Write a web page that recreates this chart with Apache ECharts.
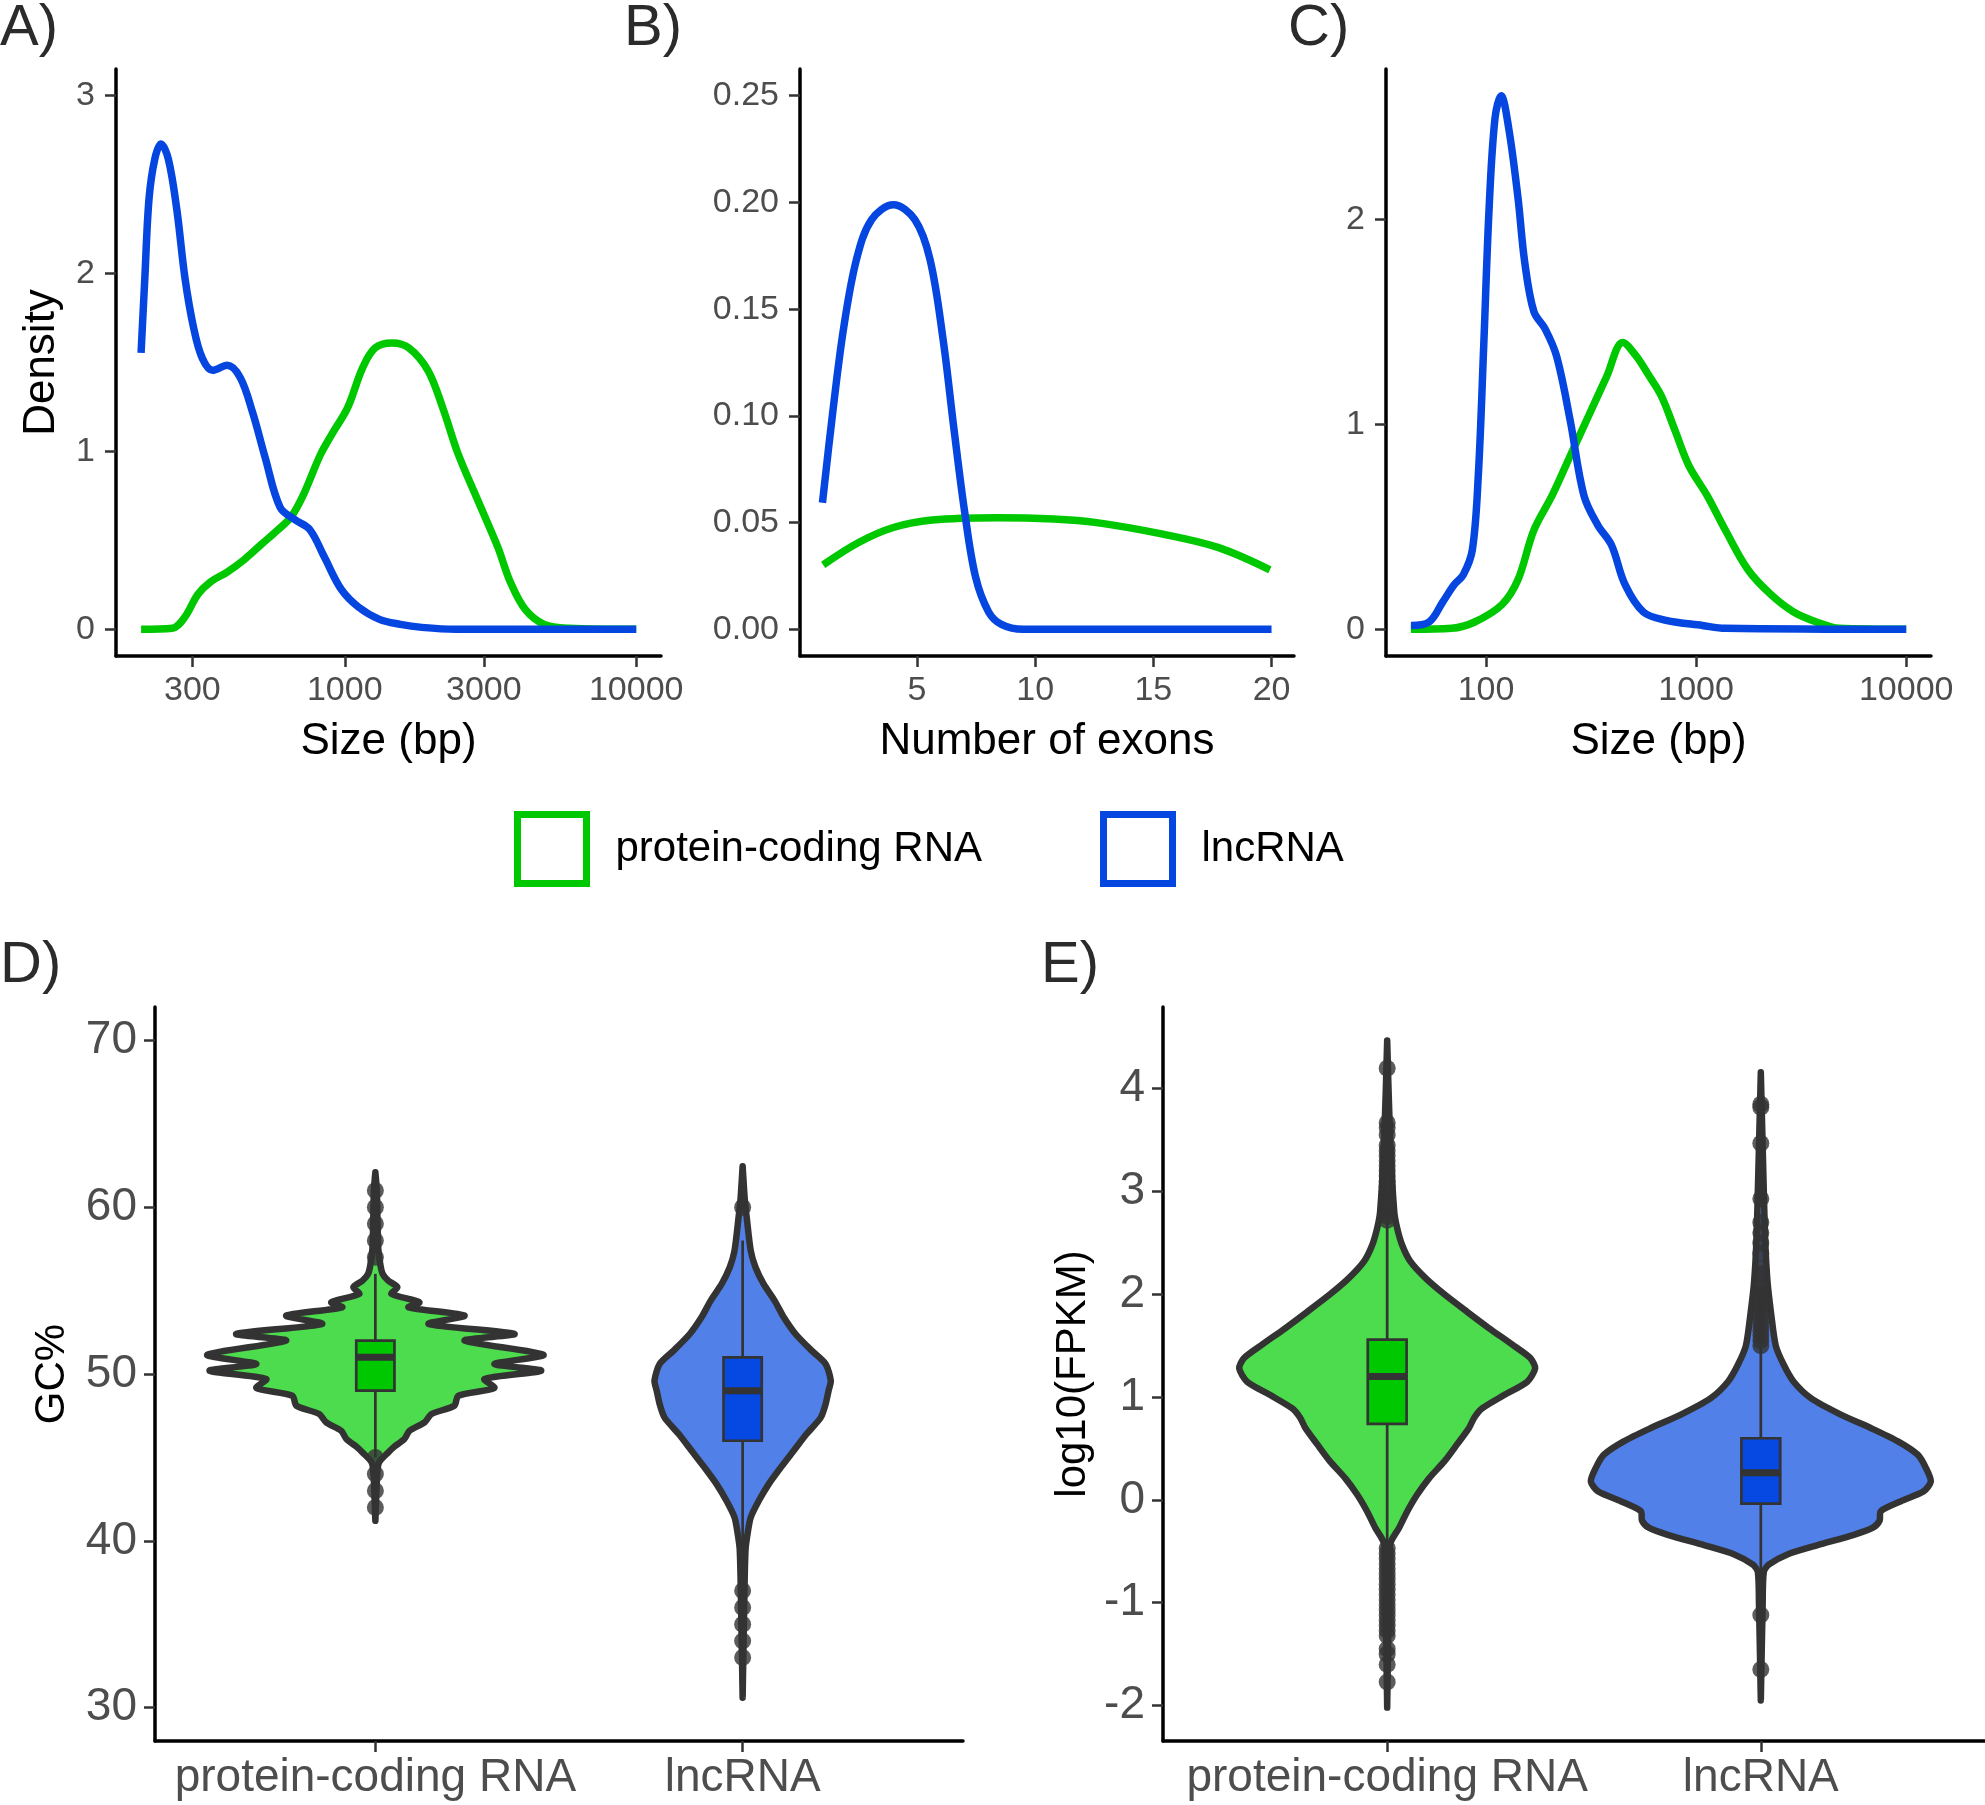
<!DOCTYPE html>
<html>
<head>
<meta charset="utf-8">
<title>lncRNA vs protein-coding RNA</title>
<script src="https://cdn.jsdelivr.net/npm/echarts@6.0.0/dist/echarts.min.js"></script>
<style>
  html, body { margin: 0; padding: 0; background: #fff; }
  #chart { width: 1985px; height: 1805px; }
</style>
</head>
<body>
<div id="chart"></div>
<script>
// ---------- data ----------
var seriesNames = ['protein-coding RNA', 'lncRNA'];
var categories = ['protein-coding RNA', 'lncRNA'];

// A) transcript size (bp) -> density
var sizeA_coding = [[200,0],[256,0.006],[283,0.07],[313,0.196],[346,0.266],[395,0.322],[452,0.392],[516,0.476],
  [590,0.56],[653,0.63],[721,0.756],[824,0.98],[910,1.106],[1023,1.246],[1151,1.47],[1271,1.582],[1452,1.61],
  [1660,1.582],[1928,1.456],[2168,1.246],[2438,0.994],[2831,0.742],[3350,0.462],[3698,0.266],[4159,0.112],
  [4831,0.028],[5902,0.006],[10000,0]];
var sizeA_lnc = [[200,1.554],[206,1.973],[213,2.421],[223,2.645],[234,2.729],[248,2.645],[265,2.365],[283,1.973],
  [303,1.694],[324,1.526],[352,1.456],[395,1.484],[438,1.414],[483,1.218],[533,0.966],[600,0.686],[675,0.616],
  [759,0.56],[851,0.406],[973,0.224],[1112,0.126],[1315,0.056],[1552,0.028],[1837,0.011],[2399,0],[10000,0]];
var ticksA = [300, 1000, 3000, 10000];

// B) number of exons -> density
var exonB_coding = [[1.03,0.0302],[2.53,0.0407],[4.0,0.0477],[5.64,0.0512],[8.39,0.0523],[10.77,0.0517],
  [12.6,0.05],[15.35,0.0447],[17.73,0.0384],[19.93,0.0279]];
var exonB_lnc = [[1,0.0593],[1.43,0.1012],[1.89,0.1407],[2.44,0.1733],[3.08,0.1919],[4.0,0.1989],[4.91,0.1919],
  [5.55,0.1733],[6.1,0.1361],[6.56,0.0942],[7.02,0.0547],[7.48,0.0244],[8.03,0.0081],[8.57,0.0023],[9.49,0],[20,0]];
var ticksB = [5, 10, 15, 20];
var ticksBy = [0, 0.05, 0.1, 0.15, 0.2, 0.25];

// C) size (bp) -> density
var sizeC_coding = [[43.9,0],[68.7,0.005],[88.3,0.036],[119.1,0.121],[141.9,0.242],[169,0.485],[206.5,0.654],
  [251.8,0.848],[307.6,1.042],[375.8,1.236],[447.7,1.401],[520,1.333],[588.8,1.248],[683.9,1.139],[794.3,0.97],
  [922.6,0.8],[1127,0.654],[1377,0.485],[1766,0.291],[2270,0.17],[2911,0.085],[3741,0.036],[4797,0.005],[10000,0]];
var sizeC_lnc = [[43.9,0.019],[53.6,0.036],[62.2,0.133],[70.5,0.218],[78,0.267],[86.1,0.388],[91.9,0.751],
  [97.5,1.381],[103.5,2.06],[110.4,2.497],[118,2.606],[128.2,2.448],[141.9,2.109],[152.8,1.794],[169,1.551],
  [191.4,1.466],[216.8,1.333],[251.8,1.018],[292.4,0.654],[340.4,0.509],[395.4,0.412],[459.2,0.218],[561,0.085],
  [719.5,0.044],[1071.5,0.019],[1377,0.005],[10000,0]];
var ticksC = [100, 1000, 10000];

// D) GC% violins: [value, half width in category units]
var vioD_coding = [[62.1,0],[61,0.004],[59,0.006],[57.5,0.008],[56.5,0.014],[56,0.02],[55.6,0.035],[55.2,0.06],
  [54.8,0.044],[54.3,0.12],[54,0.09],[53.5,0.243],[53,0.145],[52.4,0.379],[52,0.243],[51.15,0.458],[50.6,0.324],
  [50.2,0.452],[49.7,0.297],[49.16,0.324],[48.7,0.226],[48.1,0.215],[47.6,0.153],[47.1,0.134],[46.6,0.093],
  [46.1,0.079],[45.6,0.049],[45.3,0.035],[44.7,0.01],[44,0.005],[41.2,0]];
var vioD_lnc = [[62.45,0],[60.4,0.006],[59.4,0.011],[57.4,0.022],[56.4,0.035],[55.4,0.057],[54.4,0.087],
  [53.4,0.112],[52.4,0.144],[51.4,0.188],[50.6,0.226],[49.6,0.24],[49,0.234],[48.2,0.226],[47.4,0.213],
  [46.4,0.174],[45.4,0.139],[44.4,0.104],[43.4,0.071],[42.4,0.044],[41.4,0.022],[40.5,0.014],[39.5,0.008],
  [37,0.005],[30.6,0]];
// [whisker low, q1, median, q3, whisker high]
var boxD = [[45, 49, 51, 52, 56], [38, 46, 49, 51, 58]];
var outD_coding = [57, 58, 59, 60, 61, 45, 44, 43, 42];
var outD_lnc = [60, 37, 36, 35, 34, 33];
var ticksD = [30, 40, 50, 60, 70];

// E) log10(FPKM) violins
var vioE_coding = [[4.47,0],[3.5,0.008],[2.8,0.019],[2.64,0.027],[2.48,0.04],[2.32,0.062],[2.16,0.102],[2,0.153],
  [1.83,0.214],[1.67,0.273],[1.51,0.335],[1.38,0.383],[1.28,0.396],[1.15,0.375],[1.02,0.313],[0.89,0.254],
  [0.8,0.233],[0.7,0.219],[0.54,0.187],[0.375,0.153],[0.21,0.112],[0.05,0.08],[-0.11,0.054],[-0.27,0.032],
  [-0.43,0.008],[-1,0.004],[-2.02,0]];
var vioE_lnc = [[4.16,0],[3,0.008],[2.5,0.012],[2.12,0.018],[1.8,0.028],[1.5,0.04],[1.31,0.062],[1.15,0.088],
  [0.99,0.134],[0.83,0.214],[0.7,0.294],[0.57,0.367],[0.44,0.42],[0.31,0.442],[0.18,0.455],[0.084,0.436],
  [-0.013,0.375],[-0.11,0.321],[-0.2,0.318],[-0.27,0.3],[-0.34,0.249],[-0.44,0.152],[-0.53,0.071],
  [-0.63,0.021],[-0.7,0.008],[-1,0.005],[-1.95,0]];
var boxE = [[-0.45, 0.74, 1.2, 1.56, 2.72], [-0.98, -0.035, 0.265, 0.6, 1.5]];
var outE_coding = [2.72,2.76,2.8,2.85,2.9,2.95,3,3.05,3.1,3.15,3.2,3.25,3.3,3.35,3.4,3.45,3.55,3.62,3.67,4.2,
  -0.47,-0.52,-0.57,-0.62,-0.67,-0.72,-0.77,-0.82,-0.87,-0.92,-0.97,-1.02,-1.07,-1.12,-1.17,-1.22,-1.27,-1.32,
  -1.45,-1.5,-1.6,-1.77];
var outE_lnc = [1.5,1.55,1.6,1.65,1.7,1.75,1.8,1.85,1.9,1.95,2,2.05,2.1,2.2,2.25,2.4,2.5,2.6,2.7,2.93,3.47,3.82,3.85,
  -1.12,-1.65];
var ticksE = [-2, -1, 0, 1, 2, 3, 4];

// ---------- styling ----------
var GREEN = '#00c800', BLUE = '#0546e0';
var vioFill = ['#4ddc4d', '#5080e8'];
var boxFill = ['#00c800', '#0548e2'];
var FONT = 'Liberation Sans, Arial, sans-serif';
var BOX_HALF = 0.052;

function logPts(arr) {
    return arr.map(function (p) { return [Math.log10(p[0]), p[1]]; });
}

function axisBase(extra) {
    var o = {
        type: 'value',
        splitLine: { show: false },
        axisLine: { show: true, onZero: false, lineStyle: { color: '#000', width: 3.5 } },
        axisTick: { show: true, length: 11, lineStyle: { color: '#333', width: 2.5 } },
        axisLabel: { fontSize: 34, color: '#4d4d4d', fontFamily: FONT },
        nameTextStyle: { fontSize: 44, color: '#000', fontFamily: FONT },
        nameLocation: 'middle'
    };
    for (var k in extra) {
        if (typeof extra[k] === 'object' && o[k] && !Array.isArray(extra[k])) {
            for (var j in extra[k]) o[k][j] = extra[k][j];
        } else {
            o[k] = extra[k];
        }
    }
    return o;
}

function violinRender(profiles, boxes) {
    return function (params, api) {
        var i = params.dataIndex;
        var cx = api.value(0);
        var prof = profiles[i];
        var left = [], right = [];
        for (var k = 0; k < prof.length; k++) {
            left.push(api.coord([cx - prof[k][1], prof[k][0]]));
            right.push(api.coord([cx + prof[k][1], prof[k][0]]));
        }
        var pts = left.concat(right.reverse());
        var b = boxes[i];
        var p1 = api.coord([cx - BOX_HALF, b[3]]);
        var p2 = api.coord([cx + BOX_HALF, b[1]]);
        var wl = api.coord([cx, b[0]]), wh = api.coord([cx, b[4]]);
        var ml = api.coord([cx - BOX_HALF, b[2]]), mr = api.coord([cx + BOX_HALF, b[2]]);
        return {
            type: 'group',
            children: [
                { type: 'polygon', shape: { points: pts, smooth: 0.25 },
                  style: { fill: vioFill[i], stroke: '#333', lineWidth: 6.5, lineJoin: 'round' } },
                { type: 'line', shape: { x1: wl[0], y1: wl[1], x2: wh[0], y2: wh[1] },
                  style: { stroke: '#333', lineWidth: 2.7 } },
                { type: 'rect', shape: { x: p1[0], y: p1[1], width: p2[0] - p1[0], height: p2[1] - p1[1] },
                  style: { fill: boxFill[i], stroke: '#333', lineWidth: 2.7 } },
                { type: 'line', shape: { x1: ml[0], y1: ml[1], x2: mr[0], y2: mr[1] },
                  style: { stroke: '#333', lineWidth: 7 } }
            ]
        };
    };
}

function curve(name, data, idx, color) {
    return {
        name: name, type: 'line', xAxisIndex: idx, yAxisIndex: idx,
        data: data, smooth: 0.35, showSymbol: false, symbol: 'none',
        lineStyle: { color: color, width: 7.5 }, itemStyle: { color: color },
        z: name === 'lncRNA' ? 3 : 2
    };
}

function outliers(idx, cat, vals) {
    return {
        type: 'scatter', xAxisIndex: idx, yAxisIndex: idx, symbolSize: 17, z: 5,
        itemStyle: { color: '#333' },
        data: vals.map(function (v) { return [cat, v]; })
    };
}

var logTicksA = ticksA.map(Math.log10);
var logTicksC = ticksC.map(Math.log10);
var catTicks = [1, 2];

var panelLabel = function (t, l, tp) {
    return { text: t, left: l, top: tp, padding: 0,
             textStyle: { fontSize: 58, fontWeight: 'normal', color: '#2b2b2b', fontFamily: FONT } };
};

var option = {
    backgroundColor: '#fff',
    animation: false,
    textStyle: { fontFamily: FONT },
    title: [
        panelLabel('A)', 0, 0), panelLabel('B)', 624, 0), panelLabel('C)', 1288, 0),
        panelLabel('D)', 0, 937), panelLabel('E)', 1041, 937)
    ],
    legend: {
        left: 514, top: 811, padding: 0, icon: 'rect', itemWidth: 69, itemHeight: 69, itemGap: 118,
        selectedMode: false,
        textStyle: { fontSize: 42, color: '#000', fontFamily: FONT, padding: [0, 0, 0, 24] },
        data: [
            { name: seriesNames[0], itemStyle: { color: '#fff', borderColor: GREEN, borderWidth: 7 } },
            { name: seriesNames[1], itemStyle: { color: '#fff', borderColor: BLUE, borderWidth: 7 } }
        ]
    },
    grid: [
        { left: 116, top: 69, width: 545, height: 587, containLabel: false, outerBoundsMode: 'none' },
        { left: 800, top: 69, width: 494, height: 587, containLabel: false, outerBoundsMode: 'none' },
        { left: 1386, top: 69, width: 545, height: 587, containLabel: false, outerBoundsMode: 'none' },
        { left: 155, top: 1007, width: 808, height: 734, containLabel: false, outerBoundsMode: 'none' },
        { left: 1163, top: 1007, width: 822, height: 734, containLabel: false, outerBoundsMode: 'none' }
    ],
    xAxis: [
        axisBase({ gridIndex: 0, min: 2.215, max: 4.085, name: 'Size (bp)', nameGap: 64,
            axisTick: { customValues: logTicksA },
            axisLabel: { customValues: logTicksA, margin: 18,
                formatter: function (v) { return String(Math.round(Math.pow(10, v))); } } }),
        axisBase({ gridIndex: 1, min: 0.05, max: 20.95, name: 'Number of exons', nameGap: 64,
            axisTick: { customValues: ticksB },
            axisLabel: { customValues: ticksB, margin: 18 } }),
        axisBase({ gridIndex: 2, min: 1.524, max: 4.118, name: 'Size (bp)', nameGap: 64,
            axisTick: { customValues: logTicksC },
            axisLabel: { customValues: logTicksC, margin: 18,
                formatter: function (v) { return String(Math.round(Math.pow(10, v))); } } }),
        axisBase({ gridIndex: 3, min: 0.4, max: 2.6,
            axisTick: { customValues: catTicks },
            axisLabel: { customValues: catTicks, margin: 14, fontSize: 46,
                formatter: function (v) { return categories[Math.round(v) - 1]; } } }),
        axisBase({ gridIndex: 4, min: 0.4, max: 2.6,
            axisTick: { customValues: catTicks },
            axisLabel: { customValues: catTicks, margin: 14, fontSize: 46,
                formatter: function (v) { return categories[Math.round(v) - 1]; } } })
    ],
    yAxis: [
        axisBase({ gridIndex: 0, min: -0.15, max: 3.15, name: 'Density', nameGap: 52, nameRotate: 90,
            axisTick: { customValues: [0, 1, 2, 3] },
            axisLabel: { customValues: [0, 1, 2, 3], margin: 21 } }),
        axisBase({ gridIndex: 1, min: -0.0125, max: 0.2625,
            axisTick: { customValues: ticksBy },
            axisLabel: { customValues: ticksBy, margin: 21,
                formatter: function (v) { return v.toFixed(2); } } }),
        axisBase({ gridIndex: 2, min: -0.13, max: 2.736,
            axisTick: { customValues: [0, 1, 2] },
            axisLabel: { customValues: [0, 1, 2], margin: 21 } }),
        axisBase({ gridIndex: 3, min: 28, max: 72, name: 'GC%', nameGap: 82, nameRotate: 90,
            nameTextStyle: { fontSize: 42 },
            axisTick: { customValues: ticksD },
            axisLabel: { customValues: ticksD, margin: 18, fontSize: 46 } }),
        axisBase({ gridIndex: 4, min: -2.345, max: 4.795, name: 'log10(FPKM)', nameGap: 69, nameRotate: 90,
            nameTextStyle: { fontSize: 42 },
            axisTick: { customValues: ticksE },
            axisLabel: { customValues: ticksE, margin: 18, fontSize: 46 } })
    ],
    series: [
        curve(seriesNames[0], logPts(sizeA_coding), 0, GREEN),
        curve(seriesNames[1], logPts(sizeA_lnc), 0, BLUE),
        curve(seriesNames[0], exonB_coding, 1, GREEN),
        curve(seriesNames[1], exonB_lnc, 1, BLUE),
        curve(seriesNames[0], logPts(sizeC_coding), 2, GREEN),
        curve(seriesNames[1], logPts(sizeC_lnc), 2, BLUE),
        {
            type: 'custom', xAxisIndex: 3, yAxisIndex: 3, z: 3,
            renderItem: violinRender([vioD_coding, vioD_lnc], boxD),
            encode: { x: 0, y: 1 },
            data: [[1, 50], [2, 50]]
        },
        outliers(3, 1, outD_coding),
        outliers(3, 2, outD_lnc),
        {
            type: 'custom', xAxisIndex: 4, yAxisIndex: 4, z: 3,
            renderItem: violinRender([vioE_coding, vioE_lnc], boxE),
            encode: { x: 0, y: 1 },
            data: [[1, 1], [2, 0]]
        },
        outliers(4, 1, outE_coding),
        outliers(4, 2, outE_lnc)
    ]
};

var chart = echarts.init(document.getElementById('chart'), null, { renderer: 'canvas' });
chart.setOption(option);
</script>
</body>
</html>
